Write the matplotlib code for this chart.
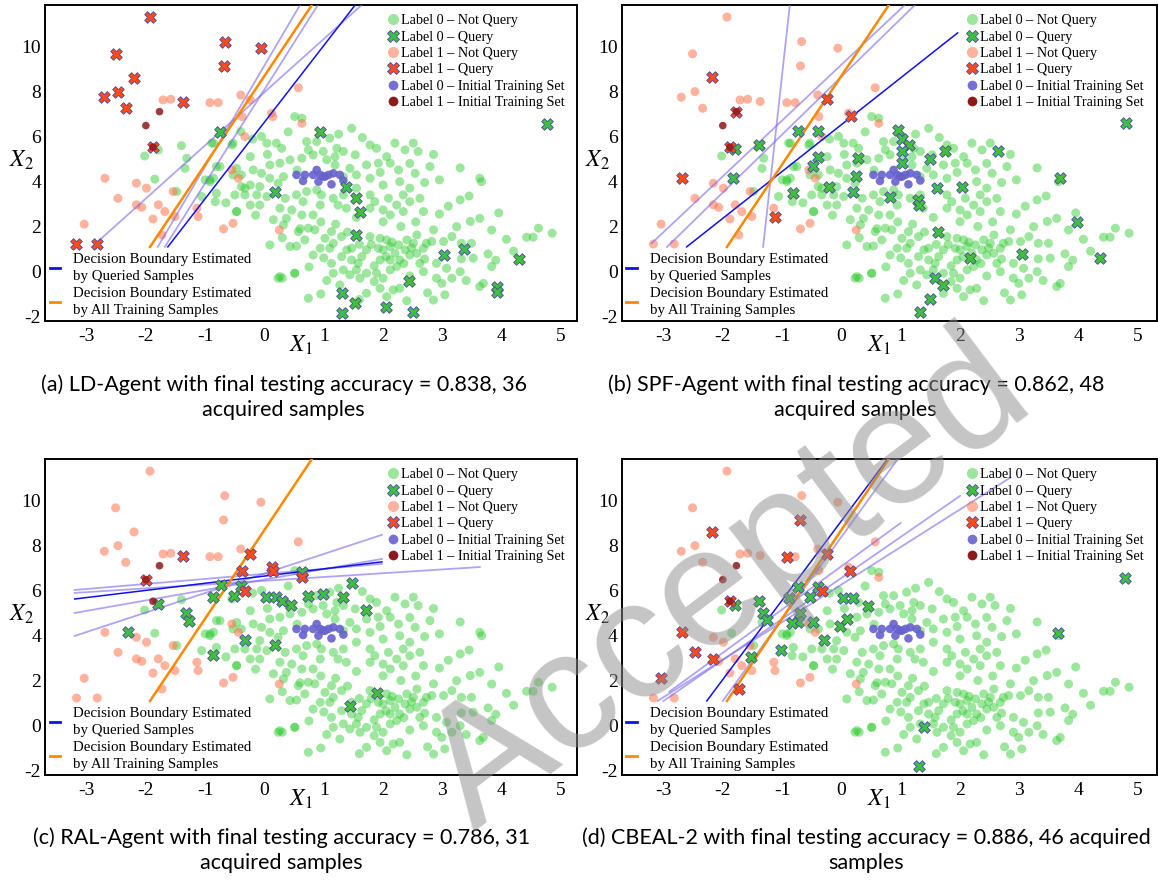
import numpy as np
import matplotlib
matplotlib.use('Agg')
import matplotlib.pyplot as plt
from matplotlib.lines import Line2D

plt.rcParams['mathtext.fontset'] = 'stix'
plt.rcParams['axes.unicode_minus'] = False
SERIF = ['Liberation Serif', 'DejaVu Serif']
SANS = ['Lato', 'DejaVu Sans']

# label 0 samples (shared by all panels)
label0_pts = [
    (0.63, 6.81), (1.47, 6.36), (-1.40, 5.59), (0.04, 5.70), (0.20, 5.70), (0.29, 5.47),
    (0.71, 5.77), (0.88, 5.77), (1.10, 5.92), (1.22, 5.47), (0.99, 5.33), (0.74, 5.40),
    (0.82, 5.18), (1.19, 5.10), (1.33, 5.33), (1.53, 5.18), (1.78, 5.62), (1.89, 5.47),
    (2.06, 5.10), (2.37, 5.40), (2.59, 5.33), (2.79, 4.66), (2.54, 4.36), (2.26, 4.51),
    (2.12, 4.81), (1.92, 4.81), (1.72, 4.73), (1.78, 4.14), (2.00, 3.84), (2.28, 3.99),
    (2.45, 3.70), (2.34, 3.40), (2.09, 3.25), (1.86, 3.10), (1.78, 3.40), (1.55, 4.29),
    (1.44, 4.58), (1.33, 4.21), (1.19, 4.73), (1.05, 4.96), (0.63, 5.03), (0.43, 4.96),
    (0.26, 4.81), (0.09, 4.73), (-0.24, 5.10), (-0.47, 4.58), (-0.39, 4.29), (-0.19, 4.51),
    (-0.05, 4.36), (0.09, 4.14), (0.32, 4.21), (0.23, 3.92), (-0.08, 3.77), (-0.24, 3.84),
    (-0.39, 3.77), (-0.50, 3.40), (-0.33, 3.40), (-0.13, 3.40), (0.04, 3.33), (-0.24, 2.95),
    (-0.08, 2.95), (0.35, 3.25), (0.54, 3.40), (0.71, 3.55), (0.88, 3.62), (0.96, 3.40),
    (0.65, 3.10), (0.46, 2.73), (0.26, 2.81), (0.94, 2.95), (1.16, 3.25), (1.24, 2.95),
    (1.33, 3.40), (1.38, 2.81), (1.78, 2.81), (2.00, 2.73), (2.23, 2.95), (2.45, 3.10),
    (2.62, 3.25), (2.68, 2.66), (2.34, 2.66), (2.12, 2.51), (2.00, 2.21), (0.82, 2.51),
    (0.63, 2.51), (0.37, 2.36), (-0.47, 2.66), (-0.81, 4.66), (-0.86, 4.14), (-0.92, 3.99),
    (-1.31, 5.03), (-1.34, 4.58), (-0.89, 5.70), (-0.75, 4.66), (-0.55, 5.62), (-1.48, 3.55),
    (3.30, 3.18), (3.63, 4.14), (3.66, 3.99), (3.47, 2.22), (3.63, 2.36), (3.83, 1.84),
    (4.08, 1.43), (4.42, 1.52), (4.53, 1.52), (4.62, 1.92), (3.24, 1.99), (3.16, 1.55),
    (3.02, 1.33), (3.32, 1.25), (3.49, 1.25), (3.32, 0.56), (3.52, 0.59), (3.77, 0.78),
    (3.83, 0.22), (3.63, -0.67), (3.69, -0.53), (3.04, -1.04), (2.85, -1.27), (2.90, -0.30),
    (2.99, -0.53), (3.16, -0.30), (3.30, -0.01), (3.07, 0.14), (2.95, 4.07), (0.43, 1.11),
    (0.51, -0.08), (0.82, 0.73), (0.94, 1.03), (1.10, 1.03), (1.16, 1.25), (0.74, 1.92),
    (0.85, 1.85), (1.02, 1.47), (1.13, 1.77), (1.30, 1.55), (1.39, 0.96), (1.47, 1.03),
    (1.30, 0.66), (1.13, 0.36), (1.16, -0.08), (1.33, 0.07), (1.47, 0.51), (1.58, 0.36),
    (1.64, 0.66), (1.72, 0.96), (1.78, 1.55), (1.95, 1.47), (2.06, 1.40), (1.92, 1.03),
    (2.00, 0.96), (2.12, 1.11), (2.20, 0.81), (1.95, 0.51), (2.12, 0.51), (2.28, 0.51),
    (2.45, 0.73), (2.57, 0.81), (2.68, 1.03), (2.51, 1.25), (2.40, 1.40), (2.57, 1.62),
    (2.73, 1.25), (2.82, 1.33), (2.37, 0.96), (2.26, 1.18), (2.23, 0.22), (2.12, 0.07),
    (2.00, -0.30), (1.89, -0.08), (1.72, -0.08), (1.55, 0.07), (1.44, -0.15), (1.27, -0.60),
    (1.61, -0.30), (1.95, -0.75), (2.06, -1.12), (2.17, -0.82), (2.28, -0.75), (1.72, -0.97),
    (2.68, -0.01), (2.62, 0.36), (2.90, 0.36), (0.74, -1.19), (0.26, -0.23), (0.68, 1.40),
    (0.57, 1.77), (-2.02, 5.13), (-1.79, 5.40), (-1.85, 4.10), (-1.06, 3.33), (-0.83, 3.10),
    (-0.81, 3.47), (-1.00, 4.07), (-0.92, 4.07), (-0.47, 2.66), (-0.53, 4.29), (-0.33, 3.70),
    (0.09, 1.18), (0.23, -0.30), (0.30, -0.30), (0.51, -0.08), (0.32, 2.07), (0.54, 1.13),
    (-0.86, 5.70), (-0.53, 5.70), (-0.40, 6.21), (-0.20, 5.88), (0.51, 6.88), (2.51, 5.70),
    (1.85, 0.25), (2.05, 0.65), (2.35, 0.35), (2.15, 1.30), (1.80, 1.20), (2.48, 1.05),
    (2.70, 0.55), (1.60, 1.20), (1.40, 1.75), (0.95, 2.20), (1.20, 2.10), (1.55, 2.40),
    (2.30, 2.00), (2.55, 2.20), (2.85, 1.85), (2.95, 2.55), (3.10, 2.90), (3.45, 3.35),
    (2.70, 3.95), (2.45, 4.80), (1.65, 5.95), (1.25, 6.10), (0.40, 6.20), (-0.05, 6.00),
    (0.05, 5.20), (0.55, 4.50), (1.55, 3.70), (1.95, 4.40), (2.20, 5.70), (2.85, 5.20),
    (3.30, 4.60), (-0.65, 3.05), (-0.15, 2.50), (0.15, 2.30), (0.60, 1.90), (0.30, 1.50),
    (1.00, 0.60), (0.75, 0.20), (1.85, -0.45), (2.45, -0.20), (2.40, -1.30), (3.40, -0.40),
    (3.90, 0.50), (4.20, 0.90), (4.85, 1.70), (3.95, 2.60), (1.05, -0.40), (0.95, -1.00),
    (1.60, -1.25), (2.75, -0.95),
]

# label 1 samples
label1_pts = [
    (-1.93, 11.30), (-2.51, 9.67), (-0.67, 10.21), (-0.69, 9.13), (-0.06, 9.92), (-2.20, 8.60),
    (-2.47, 7.99), (-2.70, 7.74), (-2.34, 7.25), (-1.37, 7.55), (-3.17, 1.22), (-2.82, 1.22),
    (-1.71, 7.62), (-1.58, 7.65), (-0.92, 7.50), (-0.78, 7.50), (-0.40, 7.84), (-0.24, 7.62),
    (0.12, 7.03), (0.14, 6.88), (-0.38, 6.88), (-0.33, 5.99), (0.57, 8.16), (0.63, 6.58),
    (-0.55, 4.51), (-0.44, 4.14), (-1.54, 3.55), (-1.12, 2.44), (-2.69, 4.14), (-2.16, 3.92),
    (-1.99, 3.70), (-2.47, 3.25), (-2.16, 2.96), (-2.07, 2.85), (-1.79, 2.96), (-1.68, 2.66),
    (-1.88, 2.33), (-1.51, 2.44), (-1.14, 2.81), (-3.04, 2.10), (-1.73, 1.62), (-0.69, 1.89),
    (-0.53, 2.14), (0.25, 1.84),
]

# initial training set
init0_pts = [
    (0.54, 4.29), (0.68, 4.29), (0.65, 4.02), (0.88, 4.51), (0.94, 4.29), (1.02, 4.21),
    (0.91, 3.99), (1.08, 4.29), (1.16, 4.36), (1.27, 4.29), (1.13, 3.87), (0.82, 4.29),
    (1.33, 4.04), (0.99, 4.22),
]
init1_pts = [(-1.77, 7.10), (-2.00, 6.48), (-1.88, 5.52)]

# queried samples per agent
query0_a = [
    (0.94, 6.21), (0.18, 3.52), (1.38, 3.73), (1.55, 3.25), (1.61, 2.62), (-0.75, 6.21),
    (1.55, 1.62), (1.30, -0.94), (1.53, -1.38), (1.30, -1.83), (2.05, -1.59), (2.50, -1.80),
    (2.44, -0.42), (3.03, 0.73), (3.37, 0.99), (3.92, -0.67), (3.92, -0.90), (4.29, 0.54),
    (4.76, 6.56),
]
query1_a = [
    (-1.93, 11.30), (-2.51, 9.67), (-0.67, 10.21), (-0.69, 9.13), (-0.06, 9.92), (-2.20, 8.60),
    (-2.47, 7.99), (-2.70, 7.74), (-2.34, 7.25), (-1.37, 7.55), (-1.88, 5.52), (-3.17, 1.22),
    (-2.82, 1.22),
]
query0_b = [
    (-1.80, 5.43), (-1.39, 5.62), (-0.73, 6.26), (-0.39, 6.26), (-0.39, 5.10), (-0.48, 4.70),
    (0.28, 5.03), (0.96, 6.29), (1.02, 5.88), (1.14, 5.62), (1.02, 5.33), (1.02, 4.81),
    (1.50, 4.99), (1.75, 5.33), (2.64, 5.33), (4.80, 6.61), (-1.83, 4.14), (-0.81, 3.47),
    (-0.21, 3.77), (0.19, 3.55), (0.24, 4.24), (0.82, 3.31), (1.29, 3.18), (1.31, 2.96),
    (1.61, 3.71), (2.03, 3.76), (1.63, 1.76), (3.68, 4.16), (3.97, 2.20), (4.36, 0.60),
    (3.04, 0.78), (2.17, 0.60), (1.58, -0.29), (1.72, -0.60), (1.49, -1.22), (1.32, -1.80),
]
query1_b = [(-2.19, 8.66), (-0.25, 7.65), (0.17, 6.91), (-1.77, 7.10), (-1.88, 5.52),
            (-2.69, 4.14), (-1.12, 2.44)]
query0_c = [
    (-1.79, 5.40), (-1.33, 4.99), (-1.27, 4.66), (-0.87, 5.70), (-0.51, 5.77), (-0.40, 6.21),
    (-0.74, 6.24), (0.03, 5.72), (0.19, 5.72), (0.30, 5.55), (0.45, 5.36), (0.63, 6.84),
    (1.48, 6.35), (0.74, 5.77), (0.99, 5.83), (1.32, 5.70), (1.71, 5.13), (-2.30, 4.15),
    (-0.87, 3.13), (-0.33, 3.80), (0.18, 3.58), (1.90, 1.43), (1.44, 0.87),
]
query1_c = [(-1.37, 7.55), (-0.24, 7.62), (-0.38, 6.88), (0.12, 7.03), (0.14, 6.88),
            (-0.33, 5.99), (-2.00, 6.48), (0.63, 6.58)]
query0_d = [
    (-1.80, 5.36), (-1.39, 5.55), (-1.33, 4.99), (-1.26, 4.69), (-0.73, 6.17), (-0.39, 6.17),
    (-0.53, 5.72), (-0.88, 5.65), (0.03, 5.68), (0.20, 5.68), (0.45, 5.33), (-0.70, 5.01),
    (-0.73, 4.61), (-0.84, 4.54), (-0.48, 4.61), (-0.03, 4.42), (0.09, 4.72), (3.65, 4.11),
    (4.78, 6.56), (1.30, -1.80), (1.40, -0.07), (-1.53, 3.04), (-1.02, 3.36), (-0.30, 3.80),
]
query1_d = [(-2.19, 8.60), (-0.69, 9.13), (-0.92, 7.50), (-0.24, 7.62), (-0.33, 5.99),
            (0.14, 6.88), (-1.88, 5.52), (-3.04, 2.10), (-2.47, 3.25), (-2.16, 2.96),
            (-1.73, 1.62), (-2.69, 4.14)]

# decision boundaries, each as two end points
all_line = [(-1.93, 1.09), (0.80, 11.84)]
blue_a = [(-1.63, 1.09), (1.53, 11.84)]
purple_a = [[(-2.91, 1.09), (1.64, 11.84)], [(-1.80, 1.09), (0.60, 11.84)],
            [(-1.68, 1.09), (0.90, 11.84)]]
blue_b = [(-2.61, 1.09), (1.96, 10.60)]
purple_b = [[(-3.20, 1.25), (1.07, 11.84)], [(-2.94, 1.09), (1.24, 11.84)],
            [(-1.32, 1.09), (-0.87, 11.84)]]
blue_c = [(-3.20, 5.62), (1.98, 7.27)]
purple_c = [[(-3.20, 3.98), (1.98, 8.47)], [(-3.20, 5.00), (1.98, 7.40)],
            [(-3.20, 6.02), (1.98, 7.18)], [(-3.20, 5.89), (3.63, 7.04)]]
blue_d = [(-2.27, 1.09), (0.78, 11.84)]
purple_d = [[(-3.10, 1.09), (2.84, 11.00)], [(-3.00, 1.09), (2.00, 10.20)],
            [(-2.90, 1.50), (1.00, 9.00)], [(-2.00, 1.09), (0.95, 11.84)]]

captions = [
    '(a) LD-Agent with final testing accuracy = 0.838, 36\nacquired samples',
    '(b) SPF-Agent with final testing accuracy = 0.862, 48\nacquired samples',
    '(c) RAL-Agent with final testing accuracy = 0.786, 31\nacquired samples',
    '(d) CBEAL-2 with final testing accuracy = 0.886, 46 acquired\nsamples',
]
xticks = [-3, -2, -1, 0, 1, 2, 3, 4, 5]
yticks = [-2, 0, 2, 4, 6, 8, 10]

C_G = (0.2, 0.8, 0.2, 0.48)
C_O = (1.0, 0.45, 0.3, 0.55)
C_GX = '#3fbf3f'
C_RX = '#ff4a1c'
C_EDGE = '#4a4a9a'
C_B0 = (0.40, 0.38, 0.80, 0.9)
C_B1 = '#8b1a1a'


def not_queried(pts, queried):
    pts = np.array(pts)
    if len(queried) == 0:
        return pts
    q = np.array(queried)
    d = np.sqrt(((pts[:, None, :] - q[None, :, :]) ** 2).sum(-1)).min(1)
    return pts[d > 0.12]


def draw_panel(ax, q0, q1, blue, purple, xlim):
    g = not_queried(label0_pts, q0)
    o = not_queried(label1_pts, q1)
    q0 = np.array(q0)
    q1 = np.array(q1)
    i0 = np.array(init0_pts)
    i1 = np.array(init1_pts)
    ax.scatter(g[:, 0], g[:, 1], s=42, color=C_G, edgecolors='none', zorder=2)
    ax.scatter(o[:, 0], o[:, 1], s=42, color=C_O, edgecolors='none', zorder=2)
    ax.scatter(i0[:, 0], i0[:, 1], s=38, color=C_B0, edgecolors='none', zorder=3)
    for seg in purple:
        ax.plot([seg[0][0], seg[1][0]], [seg[0][1], seg[1][1]], color='#7b68ee',
                alpha=0.6, lw=1.3, zorder=4)
    ax.plot([blue[0][0], blue[1][0]], [blue[0][1], blue[1][1]], color='#1010ee', lw=1.1, zorder=4)
    ax.plot([all_line[0][0], all_line[1][0]], [all_line[0][1], all_line[1][1]],
            color='#ff8800', lw=1.8, zorder=4)
    ax.scatter(q0[:, 0], q0[:, 1], s=70, marker='X', color=C_GX, edgecolors=C_EDGE,
               linewidths=0.6, zorder=5)
    ax.scatter(q1[:, 0], q1[:, 1], s=70, marker='X', color=C_RX, edgecolors=C_EDGE,
               linewidths=0.6, zorder=5)
    ax.scatter(i1[:, 0], i1[:, 1], s=30, color=C_B1, alpha=0.85, edgecolors='none', zorder=6)

    ax.set_xlim(*xlim)
    ax.set_ylim(-2.2, 11.84)
    ax.set_xticks(xticks)
    ax.set_yticks(yticks)
    ax.set_xticklabels([str(t) for t in xticks], fontfamily=SERIF, fontsize=14)
    ax.set_yticklabels([str(t) for t in yticks], fontfamily=SERIF, fontsize=14)
    ax.tick_params(axis='x', length=0, pad=5)
    ax.tick_params(axis='y', length=0, pad=3)
    for sp in ax.spines.values():
        sp.set_linewidth(1.4)
        sp.set_color('black')

    ax.text(0.48, -0.075, r'$X_1$', transform=ax.transAxes, fontsize=17,
            ha='center', va='center')
    ax.text(-0.045, 0.51, r'$X_2$', transform=ax.transAxes, fontsize=17,
            ha='center', va='center')

    h1 = [
        Line2D([], [], ls='none', marker='o', ms=8, mfc=C_G, mec='none'),
        Line2D([], [], ls='none', marker='X', ms=8, mfc=C_GX, mec=C_EDGE, mew=0.6),
        Line2D([], [], ls='none', marker='o', ms=8, mfc=C_O, mec='none'),
        Line2D([], [], ls='none', marker='X', ms=8, mfc=C_RX, mec=C_EDGE, mew=0.6),
        Line2D([], [], ls='none', marker='o', ms=7, mfc=C_B0, mec='none'),
        Line2D([], [], ls='none', marker='o', ms=7, mfc=C_B1, mec='none'),
    ]
    l1 = ['Label 0 \u2013 Not Query', 'Label 0 \u2013 Query', 'Label 1 \u2013 Not Query',
          'Label 1 \u2013 Query', 'Label 0 \u2013 Initial Training Set',
          'Label 1 \u2013 Initial Training Set']
    leg = ax.legend(h1, l1, loc='upper left', bbox_to_anchor=(0.626, 1.0), frameon=False,
                    prop={'family': SERIF, 'size': 10.2}, handlelength=0.8,
                    handletextpad=0.2, labelspacing=0.24, borderpad=0.45, borderaxespad=0.2)
    ax.add_artist(leg)
    h2 = [Line2D([], [], color='#1010ee', lw=2), Line2D([], [], color='#ff8800', lw=2)]
    l2 = ['Decision Boundary Estimated\nby Queried Samples',
          'Decision Boundary Estimated\nby All Training Samples']
    leg2 = ax.legend(h2, l2, loc='lower left', bbox_to_anchor=(0.0, 0.0), frameon=False,
                     prop={'family': SERIF, 'size': 10.7}, handlelength=0.7, handletextpad=0.9,
                     labelspacing=0.3, borderpad=0.1, borderaxespad=0.2)
    for t in leg2.get_texts():
        t.set_linespacing(1.35)


fig = plt.figure(figsize=(11.58, 8.82), dpi=100)
rects = [(0.0389, 0.6361, 0.4594, 0.3583), (0.5371, 0.6361, 0.4620, 0.3583),
         (0.0389, 0.1213, 0.4594, 0.3583), (0.5371, 0.1213, 0.4620, 0.3583)]
queries = [(query0_a, query1_a, blue_a, purple_a), (query0_b, query1_b, blue_b, purple_b),
           (query0_c, query1_c, blue_c, purple_c), (query0_d, query1_d, blue_d, purple_d)]
cap_pos = [(0.245, 0.550), (0.739, 0.550), (0.243, 0.036), (0.748, 0.036)]

for k in range(4):
    ax = fig.add_axes(rects[k])
    q0, q1, blue, purple = queries[k]
    xlim = (-3.70, 5.27) if k % 2 == 0 else (-3.70, 5.32)
    draw_panel(ax, q0, q1, blue, purple, xlim)
    fig.text(cap_pos[k][0], cap_pos[k][1], captions[k], ha='center', va='center',
             fontfamily=SANS, fontsize=15.5, linespacing=1.3)

# watermark
fig.text(0.630, 0.337, 'Accepted', rotation=37, fontsize=122, color=(0.55, 0.55, 0.55),
         alpha=0.5, ha='center', va='center', fontfamily=['Liberation Sans', 'DejaVu Sans'],
         zorder=10)

fig.savefig('out.png', dpi=100)
